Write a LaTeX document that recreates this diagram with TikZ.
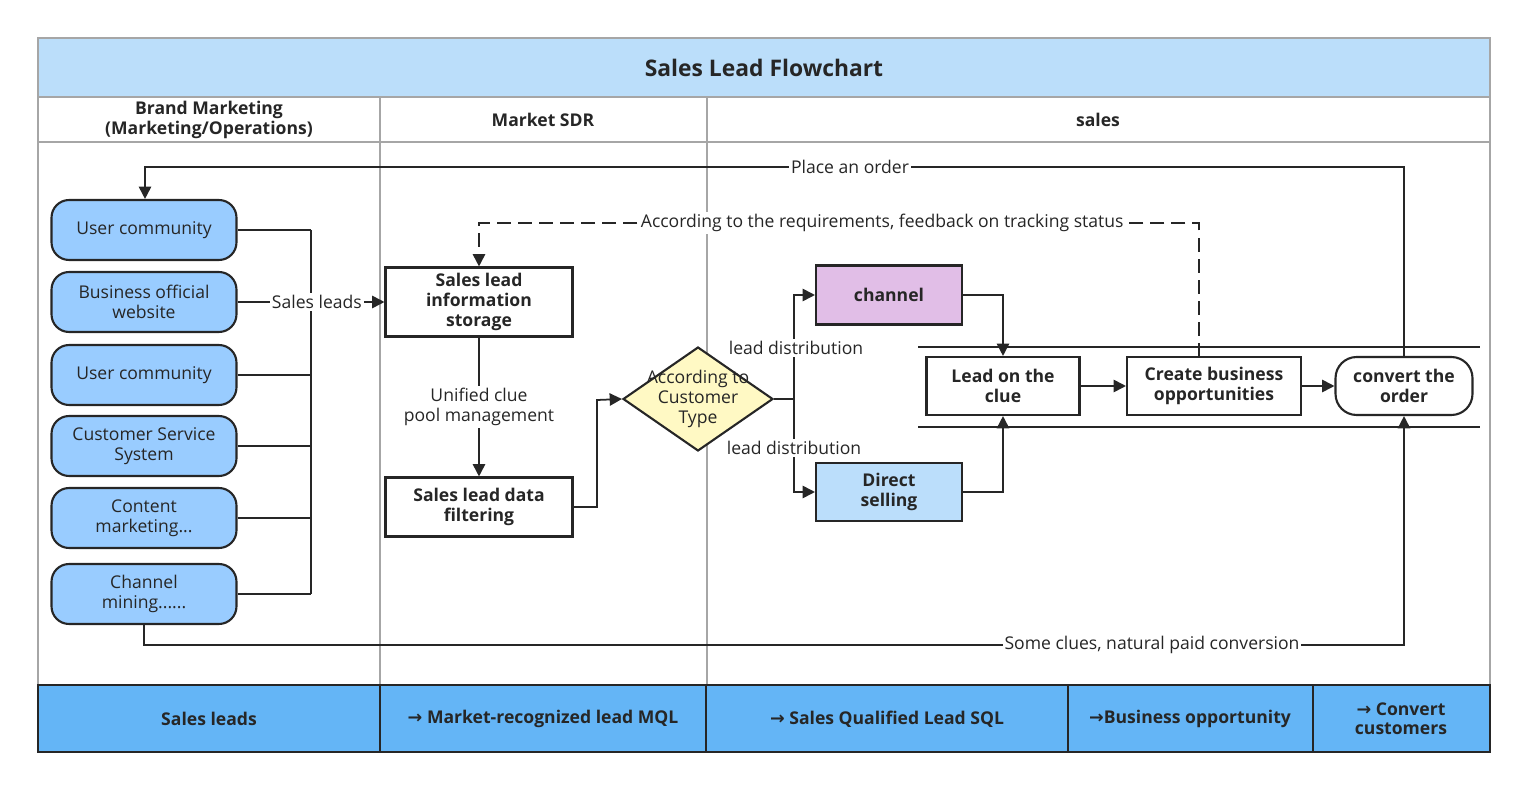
\documentclass[tikz,border=0pt]{standalone}
\usepackage{fontspec}
\setmainfont{Open Sans}
\newfontfamily\arr{DejaVu Sans}
\usetikzlibrary{shapes.geometric,arrows.meta}
\definecolor{titlebg}{HTML}{BBDEFA}
\definecolor{foot}{HTML}{64B5F6}
\definecolor{src}{HTML}{99CCFF}
\definecolor{dia}{HTML}{FFF9C4}
\definecolor{chan}{HTML}{E1BEE7}
\definecolor{dir}{HTML}{BBDEFB}
\definecolor{ink}{HTML}{262626}
\tikzset{
 x=0.02cm,y=-0.02cm,
 every node/.style={font=\fontsize{10}{11.5}\selectfont,text=ink},
 lane/.style={draw=gray!70,line width=1.2pt},
 srcbox/.style={draw=ink,line width=1.2pt,fill=src,rounded corners=10pt,minimum width=3.7cm,minimum height=1.2cm,align=center,inner sep=1pt},
 pbox/.style={draw=ink,line width=1.2pt,fill=white,align=center,font=\fontsize{10}{11.5}\selectfont\bfseries,inner sep=1pt},
 conn/.style={draw=ink,line width=1pt},
 arw/.style={conn,-{Triangle[length=7pt,width=7pt]}},
 lbl/.style={fill=white,inner sep=1pt},
}
\begin{document}
\begin{tikzpicture}
\useasboundingbox (0,0) rectangle (1527,790);
% frame
\fill[titlebg] (38,38) rectangle (1490,97);
\node (title) at (764,68) {\fontsize{13}{15}\selectfont\bfseries Sales Lead Flowchart};
\draw[lane] (38,38) rectangle (1490,752);
\draw[lane] (38,97) -- (1490,97);
\draw[lane] (38,142) -- (1490,142);
\draw[lane] (380,97) -- (380,685);
\draw[lane] (707,97) -- (707,685);
\node[align=center,font=\fontsize{10}{11}\selectfont\bfseries] (h1) at (209,120) {Brand Marketing\\(Marketing/Operations)};
\node[font=\fontsize{10}{11}\selectfont\bfseries] (h2) at (543,120) {Market SDR};
\node[font=\fontsize{10}{11}\selectfont\bfseries] (h3) at (1098,120) {sales};
% footer
\draw[fill=foot,draw=ink,line width=1.2pt] (38,685) rectangle (1490,752);
\foreach \xx in {380,706,1068,1313} \draw[ink,line width=1.2pt] (\xx,685) -- (\xx,752);
\node[font=\fontsize{10}{11}\selectfont\bfseries] (f1) at (209,719) {Sales leads};
\node[font=\fontsize{10}{11}\selectfont\bfseries] (f2) at (543,719) {{\arr →} Market-recognized lead MQL};
\node[font=\fontsize{10}{11}\selectfont\bfseries] (f3) at (887,719) {{\arr →} Sales Qualified Lead SQL};
\node[font=\fontsize{10}{11}\selectfont\bfseries] (f4) at (1190,719) {{\arr →}Business opportunity};
\node[font=\fontsize{10}{11}\selectfont\bfseries,align=center] (f5) at (1401,719) {{\arr →} Convert\\customers};
% sources
\node[srcbox] (s1) at (144,230) {User community};
\node[srcbox] (s2) at (144,302) {Business official\\website};
\node[srcbox] (s3) at (144,375) {User community};
\node[srcbox] (s4) at (144,446) {Customer Service\\System};
\node[srcbox] (s5) at (144,518) {Content\\marketing...};
\node[srcbox] (s6) at (144,594) {Channel\\mining......};
\coordinate (bt) at (311,230);
\coordinate (bb) at (311,594);
\foreach \s in {s1,s2,s3,s4,s5,s6} \draw[conn] (\s.east) -- (\s.east -| bt);
\draw[conn] (bt) -- (bb);
% SDR
\node[pbox,minimum width=3.74cm,minimum height=1.38cm] (st) at (479,302) {Sales lead\\information\\storage};
\node[pbox,minimum width=3.74cm,minimum height=1.18cm] (fl) at (479,507) {Sales lead data\\filtering};
\draw[arw] (s2.east -| bt) -- node[lbl,pos=0.08]{Sales leads} (st.west);
\draw[arw] (st) -- node[lbl,align=center]{Unified clue\\pool management} (fl);
\node[diamond,draw=ink,line width=1.2pt,fill=dia,minimum width=3cm,minimum height=2.08cm,inner sep=0pt] (dm) at (698,399) {};
\node[align=center] (dmt) at (698,399) {According to\\Customer\\Type};
\draw[arw] (fl.east) -- (597,507) -- (597,400) -- (dm.west);
% sales
\node[pbox,fill=chan,minimum width=2.92cm,minimum height=1.18cm] (ch) at (889,295) {channel};
\node[pbox,fill=dir,minimum width=2.92cm,minimum height=1.16cm] (ds) at (889,492) {Direct\\selling};
\coordinate (sp) at (794,399);
\draw[conn] (dm.east) -- (sp);
\draw[arw] (sp) -- (794,295) -- (ch.west);
\draw[arw] (sp) -- (794,492) -- (ds.west);
\node[lbl] (ld1) at (796,348) {lead distribution};
\node[lbl] (ld2) at (794,448) {lead distribution};
\draw[ink,line width=1.2pt] (918,347) -- (1480,347);
\draw[ink,line width=1.2pt] (918,427) -- (1480,427);
\node[pbox,minimum width=3.06cm,minimum height=1.16cm] (lc) at (1003,386) {Lead on the\\clue};
\node[pbox,minimum width=3.48cm,minimum height=1.16cm] (cb) at (1214,386) {Create business\\opportunities};
\node[pbox,rounded corners=12pt,minimum width=2.74cm,minimum height=1.16cm] (co) at (1404,386) {convert the\\order};
\draw[arw] (ch.east) -- (1003,295) -- (lc.north);
\draw[arw] (ds.east) -- (1003,492) -- (lc.south);
\draw[arw] (lc) -- (cb);
\draw[arw] (cb) -- (co);
\draw[arw,dashed,dash pattern=on 8pt off 4pt] (1199,357) -- (1199,223) -- node[lbl,pos=0.44]{According to the requirements, feedback on tracking status} (479,223) -- (st.north);
\draw[arw] (co.north) -- (1404,167) -- node[lbl,pos=0.44]{Place an order} (145,167) -- (s1.north -| 145,0);
\draw[arw] (s6.south) -- (144,645) -- node[lbl,pos=0.8]{Some clues, natural paid conversion} (1404,645) -- (co.south);
\end{tikzpicture}
\end{document}
